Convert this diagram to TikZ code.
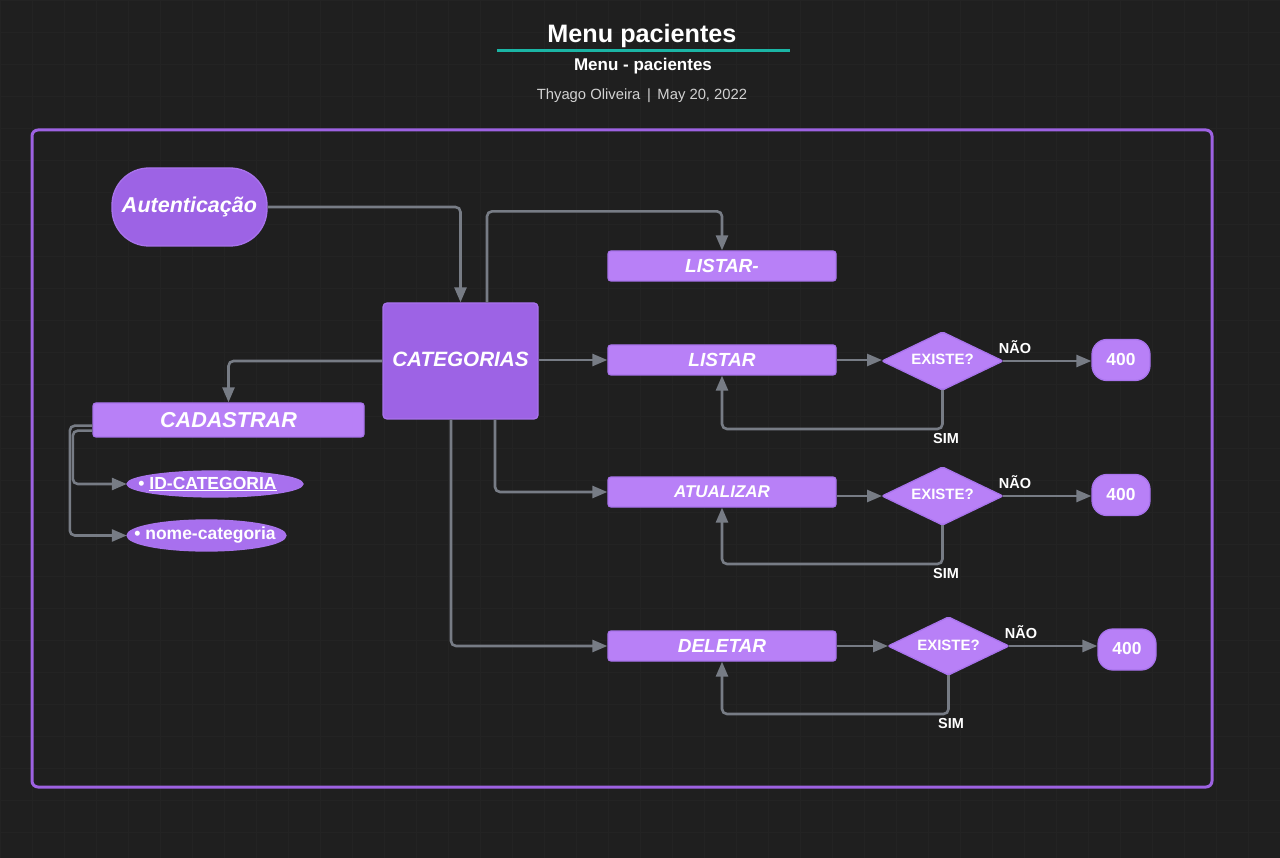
\documentclass[tikz,border=0pt]{standalone}
\usepackage{fontspec}
\setmainfont{Liberation Sans}
\usetikzlibrary{arrows.meta,shapes.geometric,calc}
\definecolor{bgc}{HTML}{1F1F1F}
\definecolor{gridc}{HTML}{232323}
\definecolor{framec}{HTML}{9D62E2}
\definecolor{tealc}{HTML}{1BB5A5}
\definecolor{connc}{HTML}{777C85}
\definecolor{pdark}{HTML}{9D63E5}
\definecolor{pmid}{HTML}{A870EE}
\definecolor{plight}{HTML}{B880F7}
\definecolor{pborder}{HTML}{A873EC}
\definecolor{subtc}{HTML}{D2D2D2}
\newcommand{\fs}[1]{\fontsize{#1}{#1}\selectfont}
\begin{document}
\begin{tikzpicture}[x=1pt,y=-1pt,
  arr/.style={draw=connc,line width=2.6pt,rounded corners=5pt,-{Triangle[length=15pt,width=12pt]}},
  pbox/.style={rectangle,rounded corners=3pt,draw=pborder,line width=1.3pt,fill=plight,text=white,inner sep=0pt,font=\bfseries\itshape},
  dia/.style={diamond,shape aspect=2,rounded corners=2pt,draw=pborder,line width=1.3pt,fill=plight,text=white,inner sep=0pt,outer sep=0pt,minimum width=121pt,minimum height=58pt,font=\bfseries\fs{15}},
  res/.style={rectangle,rounded corners=15pt,draw=pborder,line width=1.3pt,fill=plight,text=white,inner sep=0pt,minimum width=58pt,minimum height=41pt,font=\bfseries\fs{17.4}},
  ovalshape/.style={draw=pborder,line width=1.3pt,fill=pmid},
  ovaltext/.style={text=white,inner sep=0pt,font=\bfseries\fs{17.5}},
  lbl/.style={text=white,inner sep=0pt,font=\bfseries\fs{14.5}}]
\fill[bgc] (0,0) rectangle (1280,858);
\useasboundingbox (0,0) rectangle (1280,858);
\draw[gridc,line width=0.7pt] (0,0) grid[step=32pt] (1280,858);

% header
\node[text=white,font=\bfseries\fs{25.2}] (title) at (642,36) {Menu pacientes};
\coordinate (ulL) at (497,51);
\coordinate (ulR) at (790,51);
\draw[tealc,line width=3pt] (ulL) -- (ulR);
\node[text=white,font=\bfseries\fs{17}] (subtitle) at (643,66) {Menu - pacientes};
\node[text=subtc,font=\fs{14.8}] (author) at (642,96) {Thyago Oliveira\,\ |\ \,May 20, 2022};

% frame
\draw[framec,line width=3pt,rounded corners=6pt] (32,130) rectangle (1212,787);

% nodes
\node[rectangle,rounded corners=37pt,draw=pborder,line width=1.3pt,fill=pdark,text=white,inner sep=0pt,
  minimum width=155pt,minimum height=78pt,font=\bfseries\itshape\fs{21.5}] (auth) at (189.5,207) {\raisebox{2pt}{Autenticação}};
\node[rectangle,rounded corners=4pt,draw=pborder,line width=1.3pt,fill=pdark,text=white,inner sep=0pt,
  minimum width=155pt,minimum height=116pt,font=\bfseries\itshape\fs{20.7}] (cat) at (460.5,361) {\raisebox{4pt}{CATEGORIAS}};
\node[pbox,minimum width=271pt,minimum height=34pt,font=\bfseries\itshape\fs{21.6}] (cad) at (228.5,420) {CADASTRAR};

\draw[ovalshape] (215,484) ellipse [x radius=88, y radius=13];
\node[ovaltext,minimum width=176pt,minimum height=26pt] (idc) at (215,484) {\textbullet\ \underline{ID-CATEGORIA}\hspace*{15pt}};
\draw[ovalshape] (206.5,535.5) ellipse [x radius=79.5, y radius=15.5];
\node[ovaltext,minimum width=159pt,minimum height=31pt] (nome) at (206.5,535.5) {\textbullet\ nome-categoria\hspace*{3pt}};

\node[pbox,minimum width=228pt,minimum height=30pt,font=\bfseries\itshape\fs{19}] (lst0) at (722,266) {LISTAR-};
\node[pbox,minimum width=228pt,minimum height=30pt,font=\bfseries\itshape\fs{19}] (lst) at (722,360) {LISTAR};
\node[pbox,minimum width=228pt,minimum height=30pt,font=\bfseries\itshape\fs{17}] (atu) at (722,492) {ATUALIZAR};
\node[pbox,minimum width=228pt,minimum height=30pt,font=\bfseries\itshape\fs{19}] (del) at (722,646) {DELETAR};

\node[dia] (d1) at (942.5,361) {\raisebox{3pt}{EXISTE?}};
\node[dia] (d2) at (942.5,496) {\raisebox{3pt}{EXISTE?}};
\node[dia] (d3) at (948.5,646) {\raisebox{2pt}{EXISTE?}};

\node[res] (r1) at (1121,360) {\raisebox{2pt}{400}};
\node[res] (r2) at (1121,495) {\raisebox{2pt}{400}};
\node[res] (r3) at (1127,649.5) {\raisebox{2pt}{400}};

\node[lbl] (n1) at (1015,347) {NÃO};
\node[lbl] (n2) at (1015,482) {NÃO};
\node[lbl] (n3) at (1021,632) {NÃO};
\node[lbl] (s1) at (946,439) {SIM};
\node[lbl] (s2) at (946,574) {SIM};
\node[lbl] (s3) at (951,724) {SIM};

% connectors
\draw[arr] (auth.east) -| (cat.north);
\draw[arr] ($(cat.north)+(26.5,0)$) -- ++(0,-91) -| (lst0.north);
\draw[arr] (cat.west) -| (cad.north);
\draw[arr] (cat.east |- lst.west) -- (lst.west);
\draw[arr] ($(cat.south)+(34.5,0)$) |- (atu.west);
\draw[arr] ($(cat.south)+(-9.5,0)$) |- (del.west);
\draw[arr] ($(cad.south west)+(0,-12)$) -| ($(nome.west)+(-57,0)$) -- (nome.west);
\draw[arr] ($(cad.south west)+(0,-7)$) -| ($(idc.west)+(-54,0)$) -- (idc.west);

\draw[arr] (lst.east) -- (lst.east -| d1.west);
\draw[arr] (atu.east |- d2.west) -- (d2.west);
\draw[arr] (del.east) -- (d3.west);
\draw[arr] (d1.east) -- (d1.east -| r1.west);
\draw[arr] (d2.east) -- (d2.east -| r2.west);
\draw[arr] (d3.east) -- (d3.east -| r3.west);
\draw[arr] (d1.south) -- ++(0,39) -| (lst.south);
\draw[arr] (d2.south) -- ++(0,39) -| (atu.south);
\draw[arr] (d3.south) -- ++(0,39) -| (del.south);
\end{tikzpicture}
\end{document}
